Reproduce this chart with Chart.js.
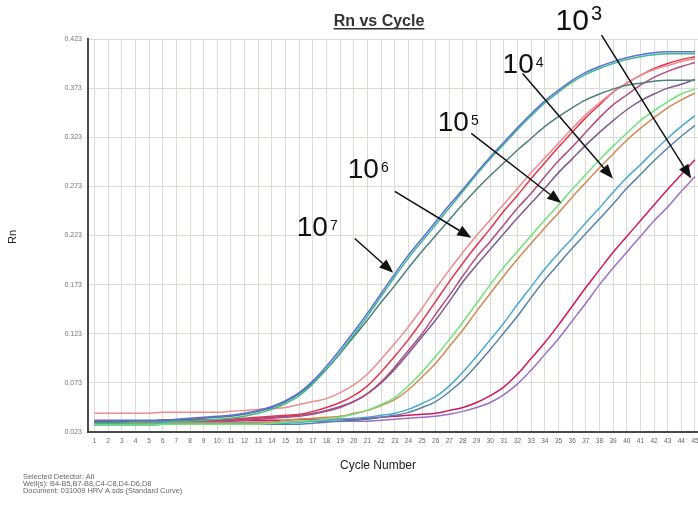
<!DOCTYPE html>
<html>
<head>
<meta charset="utf-8">
<title>Rn vs Cycle</title>
<script src="https://cdn.jsdelivr.net/npm/chart.js@4.4.1/dist/chart.umd.min.js"></script>
<style>
  html, body { margin: 0; padding: 0; background: #fff; overflow: hidden; }
  #wrap { position: relative; width: 698px; height: 507px; }
  canvas { display: block; }
</style>
</head>
<body>
<div id="wrap"><canvas id="rn" width="698" height="507"></canvas></div>
<script>
// ---- tick labels -------------------------------------------------------
const cycles = [1,2,3,4,5,6,7,8,9,10,11,12,13,14,15,16,17,18,19,20,
                21,22,23,24,25,26,27,28,29,30,31,32,33,34,35,36,37,38,39,40,
                41,42,43,44,45];
const rnTicks = [0.023,0.073,0.123,0.173,0.223,0.273,0.323,0.373,0.423];

// ---- amplification curves (Rn per cycle) --------------------------------
// 10^7 standard
const std7a = [0.035,0.035,0.035,0.035,0.035,0.035,0.036,0.037,0.038,0.039,
               0.040,0.042,0.045,0.049,0.055,0.063,0.075,0.090,0.107,0.125,
               0.144,0.164,0.184,0.203,0.220,0.237,0.254,0.270,0.287,0.303,
               0.318,0.333,0.347,0.360,0.371,0.381,0.389,0.395,0.400,0.404,
               0.407,0.409,0.410,0.410,0.410];
const std7b = [0.032,0.032,0.032,0.033,0.033,0.033,0.034,0.034,0.035,0.036,
               0.037,0.039,0.042,0.046,0.052,0.060,0.072,0.087,0.104,0.122,
               0.141,0.161,0.181,0.200,0.217,0.234,0.251,0.268,0.285,0.301,
               0.316,0.331,0.345,0.358,0.369,0.379,0.387,0.393,0.398,0.402,
               0.405,0.407,0.408,0.408,0.408];
const std7c = [0.033,0.033,0.034,0.034,0.034,0.035,0.035,0.036,0.037,0.038,
               0.039,0.041,0.044,0.048,0.054,0.062,0.073,0.087,0.103,0.120,
               0.137,0.155,0.172,0.190,0.207,0.223,0.239,0.255,0.270,0.284,
               0.297,0.310,0.322,0.334,0.344,0.353,0.361,0.367,0.372,0.376,
               0.378,0.380,0.381,0.381,0.381];
// 10^6 standard
const std6a = [0.042,0.042,0.042,0.042,0.042,0.043,0.043,0.043,0.043,0.043,
               0.044,0.045,0.046,0.047,0.048,0.051,0.054,0.057,0.063,0.071,
               0.082,0.097,0.113,0.130,0.149,0.169,0.188,0.206,0.223,0.239,
               0.255,0.271,0.287,0.302,0.317,0.332,0.346,0.358,0.369,0.378,
               0.386,0.392,0.396,0.400,0.403];
const std6b = [0.034,0.034,0.034,0.034,0.034,0.035,0.035,0.035,0.035,0.035,
               0.036,0.037,0.038,0.039,0.040,0.041,0.044,0.048,0.053,0.060,
               0.070,0.084,0.100,0.117,0.136,0.156,0.176,0.195,0.213,0.230,
               0.248,0.264,0.281,0.297,0.313,0.328,0.343,0.356,0.369,0.378,
               0.386,0.393,0.398,0.402,0.405];
const std6c = [0.033,0.033,0.033,0.033,0.033,0.034,0.034,0.034,0.034,0.034,
               0.034,0.035,0.036,0.037,0.038,0.039,0.041,0.044,0.048,0.054,
               0.062,0.074,0.089,0.106,0.123,0.143,0.162,0.182,0.201,0.217,
               0.234,0.251,0.266,0.283,0.299,0.313,0.328,0.343,0.356,0.366,
               0.376,0.384,0.390,0.395,0.399];
const std6d = [0.034,0.034,0.034,0.034,0.034,0.035,0.035,0.035,0.035,0.035,
               0.035,0.036,0.037,0.038,0.039,0.040,0.042,0.045,0.049,0.054,
               0.062,0.073,0.087,0.103,0.120,0.137,0.156,0.176,0.193,0.209,
               0.225,0.241,0.256,0.271,0.287,0.301,0.315,0.328,0.340,0.351,
               0.360,0.367,0.373,0.377,0.382];
// 10^5 standard
const std5a = [0.030,0.030,0.030,0.030,0.030,0.031,0.031,0.031,0.031,0.031,
               0.031,0.031,0.031,0.032,0.033,0.034,0.035,0.036,0.038,0.041,
               0.045,0.051,0.058,0.070,0.084,0.100,0.117,0.135,0.154,0.173,
               0.191,0.207,0.223,0.239,0.254,0.270,0.285,0.300,0.314,0.327,
               0.340,0.350,0.359,0.367,0.372];
const std5b = [0.032,0.032,0.032,0.032,0.032,0.033,0.033,0.033,0.033,0.033,
               0.033,0.033,0.033,0.033,0.035,0.036,0.037,0.038,0.039,0.042,
               0.045,0.050,0.056,0.066,0.079,0.093,0.110,0.127,0.146,0.164,
               0.182,0.199,0.215,0.231,0.246,0.262,0.277,0.292,0.306,0.320,
               0.332,0.343,0.353,0.361,0.368];
// 10^4 standard
const std4a = [0.031,0.031,0.031,0.031,0.031,0.032,0.032,0.032,0.032,0.032,
               0.032,0.032,0.032,0.032,0.032,0.033,0.034,0.035,0.036,0.037,
               0.038,0.040,0.042,0.046,0.052,0.059,0.070,0.084,0.100,0.117,
               0.134,0.153,0.171,0.189,0.205,0.220,0.236,0.251,0.267,0.282,
               0.295,0.309,0.322,0.334,0.345];
const std4b = [0.030,0.030,0.030,0.030,0.030,0.031,0.031,0.031,0.031,0.031,
               0.031,0.031,0.031,0.031,0.031,0.031,0.032,0.033,0.034,0.035,
               0.036,0.038,0.040,0.043,0.048,0.054,0.064,0.076,0.091,0.107,
               0.124,0.141,0.160,0.178,0.194,0.210,0.225,0.240,0.255,0.271,
               0.285,0.299,0.312,0.324,0.335];
// 10^3 standard
const std3a = [0.034,0.034,0.034,0.034,0.034,0.035,0.035,0.035,0.035,0.035,
               0.035,0.035,0.035,0.035,0.035,0.036,0.036,0.036,0.036,0.036,
               0.037,0.038,0.039,0.040,0.041,0.042,0.045,0.048,0.053,0.060,
               0.069,0.082,0.098,0.114,0.132,0.151,0.170,0.188,0.206,0.222,
               0.238,0.254,0.270,0.285,0.300];
const std3b = [0.032,0.032,0.032,0.032,0.032,0.033,0.033,0.033,0.033,0.033,
               0.033,0.033,0.033,0.033,0.033,0.034,0.034,0.034,0.034,0.034,
               0.034,0.035,0.036,0.037,0.038,0.039,0.041,0.044,0.048,0.053,
               0.061,0.072,0.086,0.102,0.118,0.136,0.154,0.173,0.190,0.206,
               0.222,0.238,0.252,0.268,0.283];

const series = [
  { name: '1e7 a', values: std7a, color: '#5b6fdc' },
  { name: '1e7 b', values: std7b, color: '#3fb88a' },
  { name: '1e7 c', values: std7c, color: '#4d7f7c' },
  { name: '1e6 a', values: std6a, color: '#f08a8c' },
  { name: '1e6 b', values: std6b, color: '#e6344f' },
  { name: '1e6 c', values: std6c, color: '#b44c80' },
  { name: '1e6 d', values: std6d, color: '#7c5a92' },
  { name: '1e5 a', values: std5a, color: '#70e27a' },
  { name: '1e5 b', values: std5b, color: '#d08a55' },
  { name: '1e4 a', values: std4a, color: '#4aa8d2' },
  { name: '1e4 b', values: std4b, color: '#5a82a6' },
  { name: '1e3 a', values: std3a, color: '#d0185a' },
  { name: '1e3 b', values: std3b, color: '#9a70c8' }
];

const footerLines = [
  'Selected Detector: All',
  'Well(s): B4-B5,B7-B8,C4-C8,D4-D6,D8',
  'Document: 031009 HRV A.sds (Standard Curve)'
];

// Dilution labels with pointer arrows, placed in data units (cycle, Rn)
const dilutionNotes = [
  { exp: '7', at: [15.82, 0.222], from: [20.07, 0.220], to: [22.89, 0.185], size: 28, expSize: 14 },
  { exp: '6', at: [19.56, 0.282], from: [23.00, 0.268], to: [28.61, 0.2207], size: 28, expSize: 14 },
  { exp: '5', at: [26.15, 0.329], from: [28.61, 0.327], to: [35.20, 0.256], size: 28, expSize: 14 },
  { exp: '4', at: [30.90, 0.388], from: [32.37, 0.388], to: [38.98, 0.281], size: 28, expSize: 14 },
  { exp: '3', at: [34.78, 0.432], from: [38.15, 0.427], to: [44.72, 0.281], size: 30, expSize: 20 }
];

const FONT = '"Liberation Sans", Arial, Helvetica, sans-serif';
Chart.defaults.font.family = FONT;

function arrow(ctx, x0, y0, x1, y1) {
  const ang = Math.atan2(y1 - y0, x1 - x0);
  const head = 14, half = 5.5;
  const bx = x1 - head * Math.cos(ang), by = y1 - head * Math.sin(ang);
  ctx.beginPath();
  ctx.moveTo(x0, y0);
  ctx.lineTo(bx, by);
  ctx.stroke();
  ctx.beginPath();
  ctx.moveTo(x1, y1);
  ctx.lineTo(bx + half * Math.sin(ang), by - half * Math.cos(ang));
  ctx.lineTo(bx - half * Math.sin(ang), by + half * Math.cos(ang));
  ctx.closePath();
  ctx.fill();
}

const decorations = {
  id: 'decorations',
  afterDraw(chart) {
    const { ctx, scales: { x, y } } = chart;
    ctx.save();

    // chart title, underlined
    ctx.fillStyle = '#333';
    ctx.font = 'bold 16px ' + FONT;
    ctx.textAlign = 'center';
    ctx.textBaseline = 'alphabetic';
    ctx.fillText('Rn vs Cycle', 379, 26);
    const tw = ctx.measureText('Rn vs Cycle').width;
    ctx.fillRect(379 - tw / 2, 28, tw, 1.5);

    // axis titles
    ctx.fillStyle = '#222';
    ctx.font = '12px ' + FONT;
    ctx.fillText('Cycle Number', 378, 469);
    ctx.save();
    ctx.translate(13, 237);
    ctx.rotate(-Math.PI / 2);
    ctx.font = '11px ' + FONT;
    ctx.textBaseline = 'middle';
    ctx.fillText('Rn', 0, 0);
    ctx.restore();

    // run information
    ctx.fillStyle = '#666';
    ctx.font = '7.4px ' + FONT;
    ctx.textAlign = 'left';
    footerLines.forEach((t, i) => ctx.fillText(t, 23, 478.5 + i * 7.3));

    // dilution labels and arrows
    ctx.fillStyle = '#111';
    ctx.strokeStyle = '#111';
    ctx.lineWidth = 1.5;
    dilutionNotes.forEach(n => {
      const lx = x.getPixelForValue(n.at[0]);
      const ly = y.getPixelForValue(n.at[1]);
      ctx.font = n.size + 'px ' + FONT;
      ctx.fillText('10', lx, ly);
      const w = ctx.measureText('10').width;
      ctx.font = n.expSize + 'px ' + FONT;
      ctx.fillText(n.exp, lx + w + 2, ly - (n.expSize >= 18 ? 10 : 6));
      arrow(ctx,
        x.getPixelForValue(n.from[0]), y.getPixelForValue(n.from[1]),
        x.getPixelForValue(n.to[0]), y.getPixelForValue(n.to[1]));
    });

    ctx.restore();
  }
};

new Chart(document.getElementById('rn'), {
  type: 'line',
  data: {
    datasets: series.map(s => ({
      label: s.name,
      data: s.values.map((v, i) => ({ x: cycles[i], y: v })),
      borderColor: s.color,
      backgroundColor: s.color,
      borderWidth: 1.5,
      pointRadius: 0,
      fill: false,
      cubicInterpolationMode: 'monotone'
    }))
  },
  options: {
    responsive: false,
    devicePixelRatio: 1,
    animation: false,
    events: [],
    layout: { padding: { top: 39, right: 0, bottom: 0, left: 0 } },
    plugins: {
      legend: { display: false },
      tooltip: { enabled: false },
      title: { display: false }
    },
    scales: {
      x: {
        type: 'linear',
        min: 0.524,
        max: 45.22,
        afterBuildTicks: s => { s.ticks = cycles.map(v => ({ value: v })); },
        afterFit: s => { s.height = 75; s.paddingLeft = 0; s.paddingRight = 0; },
        ticks: {
          autoSkip: false,
          maxRotation: 0,
          padding: 5,
          color: '#666',
          font: { size: 6.5 },
          callback: v => String(v)
        },
        grid: { color: '#dcdcd6', lineWidth: 1, drawTicks: false },
        border: { color: '#4a4a4a', width: 2 }
      },
      y: {
        type: 'linear',
        min: 0.023,
        max: 0.423,
        afterBuildTicks: s => { s.ticks = rnTicks.map(v => ({ value: v })); },
        afterFit: s => { s.width = 88; s.paddingTop = 0; s.paddingBottom = 0; },
        ticks: {
          padding: 6,
          color: '#777',
          font: { size: 7 },
          callback: v => v.toFixed(3)
        },
        grid: { color: '#dcdcd6', lineWidth: 1, drawTicks: false },
        border: { color: '#4a4a4a', width: 2 }
      }
    }
  },
  plugins: [decorations]
});
</script>
</body>
</html>
